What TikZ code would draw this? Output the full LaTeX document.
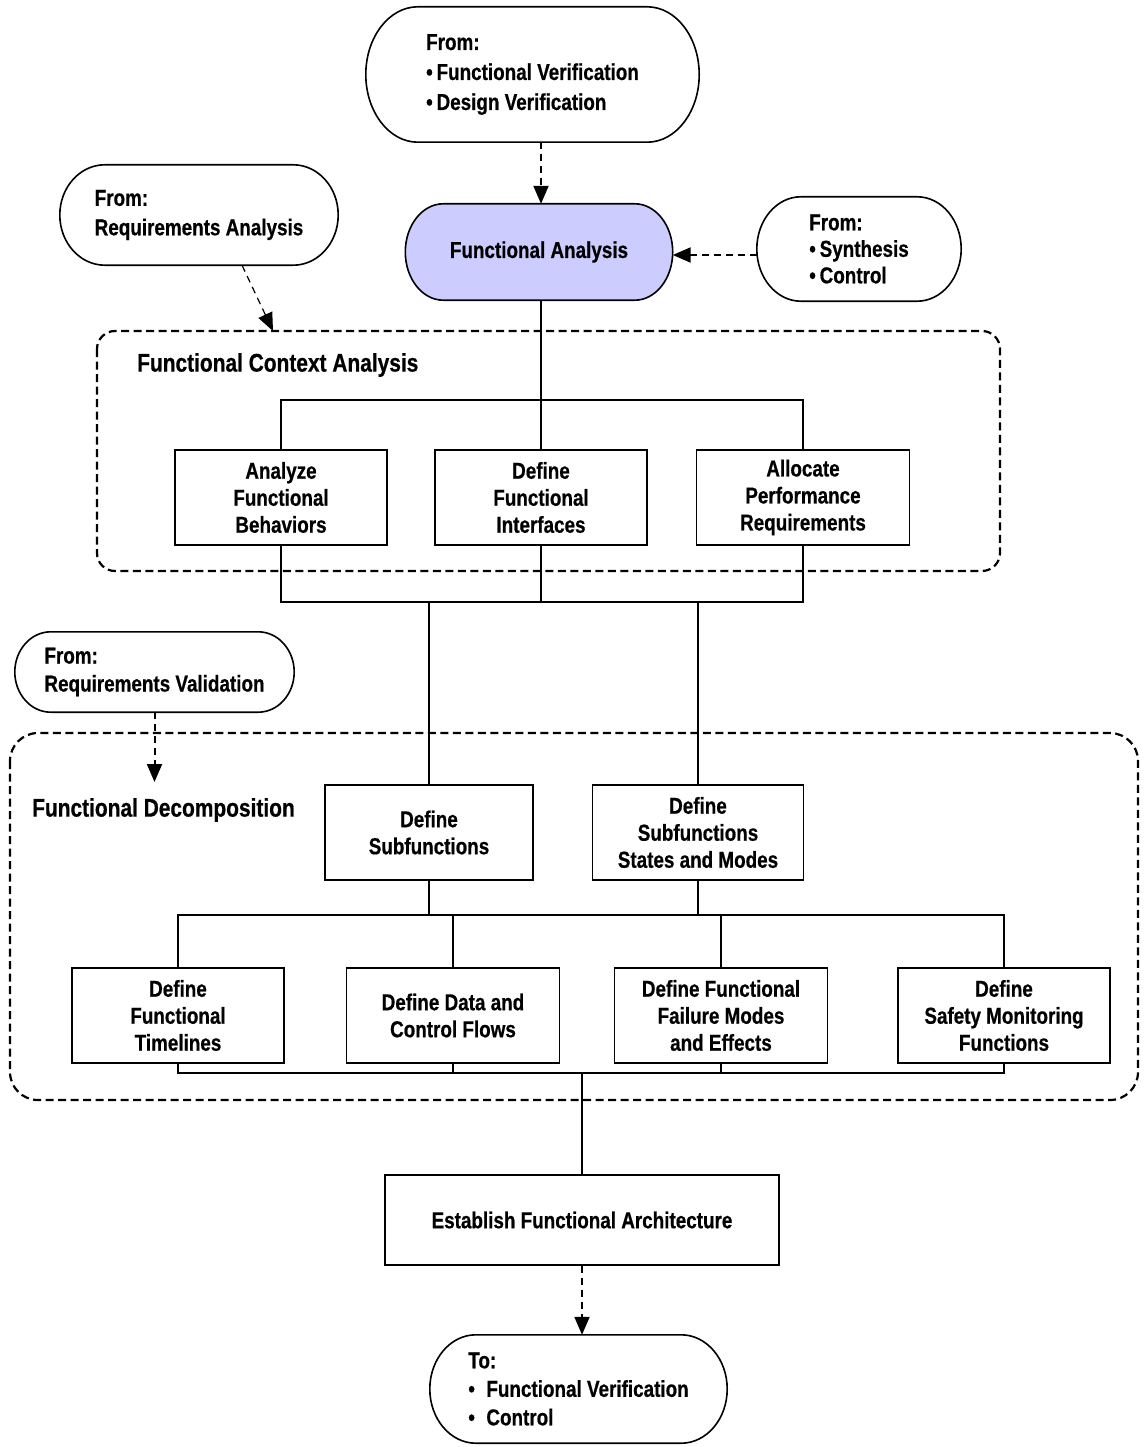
\documentclass[tikz,border=0pt]{standalone}
\usepackage{fontspec}
\setmainfont{Liberation Sans}[FakeStretch=0.82, BoldFeatures={FakeBold=0.6}]
\usetikzlibrary{arrows.meta,calc,backgrounds}
\definecolor{falav}{RGB}{204,204,255}

\tikzset{
  procbox/.style={draw, line width=1.6pt, minimum height=95pt, inner sep=0pt,
    align=center, font=\bfseries\fontsize{23}{27}\selectfont},
  termnode/.style={inner sep=0pt, align=left,
    font=\bfseries\fontsize{23}{29.5}\selectfont},
  termline/.style={draw, line width=1.6pt},
  link/.style={line width=1.5pt},
  flow/.style={line width=2pt, dash pattern=on 7pt off 5pt,
    -{Triangle[length=18pt,width=15pt]}},
  thinflow/.style={line width=1.2pt, dash pattern=on 7pt off 5pt,
    -{Triangle[length=18pt,width=15pt]}},
  region/.style={draw, line width=2.2pt, dash pattern=on 8pt off 4.5pt},
  regionlabel/.style={anchor=west, inner sep=0pt,
    font=\bfseries\fontsize{25.5}{30}\selectfont},
}

% terminator outline: straight top and bottom, elliptical ends reaching #3 inwards
\newcommand\termoutline[3][]{%
  \draw[termline,#1] ([xshift=#3]#2.north west) -- ([xshift=-#3]#2.north east)
    .. controls ([xshift=-0.448*#3]#2.north east) and ($(#2.east)!0.552!(#2.north east)$) .. (#2.east)
    .. controls ($(#2.east)!0.552!(#2.south east)$) and ([xshift=-0.448*#3]#2.south east) .. ([xshift=-#3]#2.south east)
    -- ([xshift=#3]#2.south west)
    .. controls ([xshift=0.448*#3]#2.south west) and ($(#2.west)!0.552!(#2.south west)$) .. (#2.west)
    .. controls ($(#2.west)!0.552!(#2.north west)$) and ([xshift=0.448*#3]#2.north west) .. cycle;}

\begin{document}
\begin{tikzpicture}[x=1pt,y=-1pt]
\useasboundingbox (0,0) rectangle (1143,1447);

% dashed regions
\draw[region, rounded corners=18pt] (97,331) rectangle (1000,571);
\draw[region, rounded corners=28pt] (10,733) rectangle (1138,1100);
\node[regionlabel] (lblctx) at (137,365) {Functional Context Analysis};
\node[regionlabel] (lbldec) at (32,810) {Functional Decomposition};

% terminators
\node[termnode, minimum width=333pt, minimum height=135pt] (src) at (532.5,74.5)
  {From:\\[0.5pt]•\,Functional Verification\\[0.5pt]•\,Design Verification};
\node[termnode, minimum width=267pt, minimum height=96pt, align=center] (fa) at (539,252)
  {Functional Analysis};
\node[termnode, minimum width=204pt, minimum height=104pt,
  font=\bfseries\fontsize{23}{26.5}\selectfont] (syn) at (859,249)
  {From:\\•\,Synthesis\\•\,Control};
\node[termnode, minimum width=278pt, minimum height=100pt] (reqa) at (199,215)
  {From:\\Requirements Analysis};
\node[termnode, minimum width=279pt, minimum height=80pt,
  font=\bfseries\fontsize{23}{28}\selectfont] (reqv) at (154.5,672)
  {From:\\Requirements Validation};
\node[termnode, minimum width=297pt, minimum height=108pt,
  font=\bfseries\fontsize{23}{28.5}\selectfont] (dest) at (578.5,1389)
  {To:\\•\enspace Functional Verification\\•\enspace Control};

\begin{pgfonlayer}{background}
  \termoutline{src}{52pt}
  \termoutline[fill=falav]{fa}{38pt}
  \termoutline{syn}{44pt}
  \termoutline{reqa}{45pt}
  \termoutline{reqv}{36pt}
  \termoutline{dest}{46pt}
\end{pgfonlayer}

% process boxes
\node[procbox, minimum width=212pt] (afb) at (281,497.5) {Analyze\\Functional\\Behaviors};
\node[procbox, minimum width=212pt] (dfi) at (541,497.5) {Define\\Functional\\Interfaces};
\node[procbox, minimum width=213pt] (apr) at (803,497.5) {Allocate\\Performance\\Requirements};
\node[procbox, minimum width=208pt] (dsf) at (429,832.5) {Define\\Subfunctions};
\node[procbox, minimum width=211pt] (dsm) at (698,832.5) {Define\\Subfunctions\\States and Modes};
\node[procbox, minimum width=212pt] (dft) at (178,1015.5) {Define\\Functional\\Timelines};
\node[procbox, minimum width=213pt] (ddc) at (453,1015.5) {Define Data and\\Control Flows};
\node[procbox, minimum width=213pt] (dfm) at (721,1015.5) {Define Functional\\Failure Modes\\and Effects};
\node[procbox, minimum width=212pt] (dsa) at (1004,1015.5) {Define\\Safety Monitoring\\Functions};
\node[procbox, minimum width=394pt, minimum height=90pt] (efa) at (582,1220) {Establish Functional Architecture};

% bus coordinates
\coordinate (bus1) at (0,400);
\coordinate (bus2) at (0,602);
\coordinate (bus3) at (0,915);
\coordinate (bus4) at (0,1073);

% context analysis tree
\draw[link] (dfi.north |- fa.south) -- (dfi.north);
\draw[link] (afb.north) -- (afb.north |- bus1) -- (apr.north |- bus1) -- (apr.north);
\draw[link] (afb.south) -- (afb.south |- bus2) -- (apr.south |- bus2) -- (apr.south);
\draw[link] (dfi.south) -- (dfi.south |- bus2);

% decomposition tree
\draw[link] (dsf.north |- bus2) -- (dsf.north);
\draw[link] (dsm.north |- bus2) -- (dsm.north);
\draw[link] (dft.north) -- (dft.north |- bus3) -- (dsa.north |- bus3) -- (dsa.north);
\draw[link] (dsf.south) -- (dsf.south |- bus3);
\draw[link] (dsm.south) -- (dsm.south |- bus3);
\draw[link] (ddc.north |- bus3) -- (ddc.north);
\draw[link] (dfm.north |- bus3) -- (dfm.north);
\draw[link] (dft.south) -- (dft.south |- bus4) -- (dsa.south |- bus4) -- (dsa.south);
\draw[link] (ddc.south) -- (ddc.south |- bus4);
\draw[link] (dfm.south) -- (dfm.south |- bus4);
\draw[link] (efa.north |- bus4) -- (efa.north);

% dashed inputs and output
\coordinate (ctxin) at (273,331);
\coordinate (decin) at (154.5,782);
\draw[flow] (dfi.north |- src.south) -- (dfi.north |- fa.north);
\draw[flow] (syn.west |- 0,255) -- (fa.east |- 0,255);
\draw[thinflow] ([xshift=43pt]reqa.south) -- (ctxin);
\draw[flow] (reqv.south) -- (decin);
\draw[flow] (efa.south) -- (efa.south |- dest.north);
\end{tikzpicture}
\end{document}
